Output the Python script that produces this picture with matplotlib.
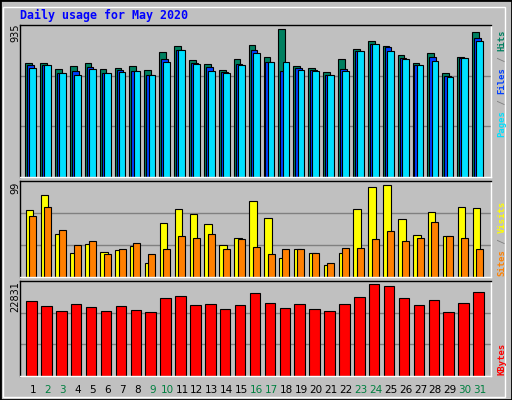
import matplotlib
matplotlib.use("Agg")
import matplotlib.pyplot as plt
from matplotlib.patches import Rectangle
import numpy as np

# ── DATA ───────────────────────────────────────────────
days = list(range(1, 32))
weekend = [2, 3, 9, 10, 16, 17, 23, 24, 30, 31]

hits = [699, 699, 662, 680, 699, 662, 668, 680, 656, 767, 804, 717, 693, 656, 723, 810,
        736, 908, 680, 668, 643, 723, 785, 834, 804, 748, 699, 760, 637, 736, 890]
files = [686, 686, 637, 649, 674, 637, 656, 649, 625, 723, 779, 699, 674, 643, 693, 779,
         705, 649, 668, 656, 625, 662, 773, 816, 797, 730, 686, 736, 619, 730, 853]
pages = [668, 686, 637, 625, 662, 637, 643, 649, 625, 705, 779, 693, 649, 637, 686, 760,
         705, 705, 656, 649, 625, 649, 773, 816, 773, 723, 686, 711, 612, 730, 834]
visits = [67, 82, 43, 24, 33, 25, 27, 31, 14, 54, 68, 63, 53, 32, 39, 76,
          59, 19, 28, 24, 12, 24, 68, 91, 93, 58, 42, 65, 41, 70, 69]
sites = [61, 70, 47, 32, 36, 23, 28, 34, 23, 28, 41, 39, 43, 28, 38, 30,
         23, 28, 28, 24, 14, 29, 29, 38, 46, 36, 39, 55, 41, 39, 28]
kbytes = [17142, 15989, 14836, 16450, 15758, 14836, 15989, 15066, 14605, 17834, 18295,
          16220, 16450, 15297, 16220, 18987, 16681, 15528, 16450, 15297, 14836, 16450,
          18064, 21062, 20601, 17834, 16220, 17373, 14605, 16681, 19218]

BG = "#C0C0C0"
C_HITS, C_FILES, C_PAGES = "#008060", "#0040FF", "#00E0FF"
C_VISITS, C_SITES, C_KB = "#FFFF00", "#FF8000", "#FF0000"
W, H = 512, 400

fig = plt.figure(figsize=(W / 100, H / 100), dpi=100, facecolor=BG)

# frame
fig.patches.append(Rectangle((0, 0), 1, 1, transform=fig.transFigure,
                             fill=False, edgecolor="black", lw=2))
fig.patches.append(Rectangle((3 / W, 3 / H), 1 - 10 / W, 1 - 10 / H, transform=fig.transFigure,
                             fill=False, edgecolor="white", lw=1))


def panel(top, bottom, ymax):
    ax = fig.add_axes([20 / W, 1 - bottom / H, 471 / W, (bottom - top) / H], facecolor=BG)
    ax.set_xlim(0.128, 31.74)
    ax.set_ylim(0, ymax)
    for g in (ymax / 3, 2 * ymax / 3):
        ax.axhline(g, color="#808080", lw=1, zorder=0)
    ax.set_xticks([])
    ax.set_yticks([])
    for s in ax.spines.values():
        s.set_color("black")
        s.set_linewidth(1)
    ax.spines["right"].set_color("white")
    ax.spines["bottom"].set_color("white")
    return ax


x = np.array(days)
ek = dict(edgecolor="black", linewidth=0.8)

ax1 = panel(25, 176.7, 935)
ax1.bar(x - 0.3, hits, width=0.45, color=C_HITS, **ek)
ax1.bar(x - 0.17, files, width=0.45, color=C_FILES, **ek)
ax1.bar(x - 0.02, pages, width=0.45, color=C_PAGES, **ek)

ax2 = panel(181, 276.7, 96.6)
ax2.bar(x - 0.24, visits, width=0.5, color=C_VISITS, **ek)
ax2.bar(x - 0.02, sites, width=0.47, color=C_SITES, **ek)

ax3 = panel(281, 375.7, 21831)
ax3.bar(x - 0.1, kbytes, width=0.7, color=C_KB, **ek)

# day labels
for d in days:
    fig.text((33 + (d - 1) * 14.9) / W, 1 - 390 / H, str(d), ha="center", va="center",
             fontsize=7.5, color="#008040" if d in weekend else "black")

fig.text(20 / W, 1 - 15 / H, "Daily usage for May 2020", color="#0000FF",
         fontsize=8.4, fontweight="bold", family="DejaVu Sans Mono", va="center")

for txt, y in (("935", 33), ("99", 188), ("22831", 297)):
    fig.text(15 / W, 1 - y / H, txt, rotation=90, ha="center", va="center", fontsize=7)


def vlabel(parts, y_bottom):
    y = y_bottom
    for txt, col in parts:
        fig.text(502 / W, 1 - y / H, txt, rotation=90, ha="center", va="bottom",
                 fontsize=6.4, fontweight="bold", family="DejaVu Sans Mono", color=col)
        y -= len(txt) * 5.4


vlabel([("Pages", C_PAGES), (" / ", "#808080"), ("Files", C_FILES),
        (" / ", "#808080"), ("Hits", C_HITS)], 137)
vlabel([("Sites", C_SITES), (" / ", "#808080"), ("Visits", C_VISITS)], 276)
vlabel([("KBytes", C_KB)], 375)

fig.savefig("out.png", dpi=100, facecolor=BG)
